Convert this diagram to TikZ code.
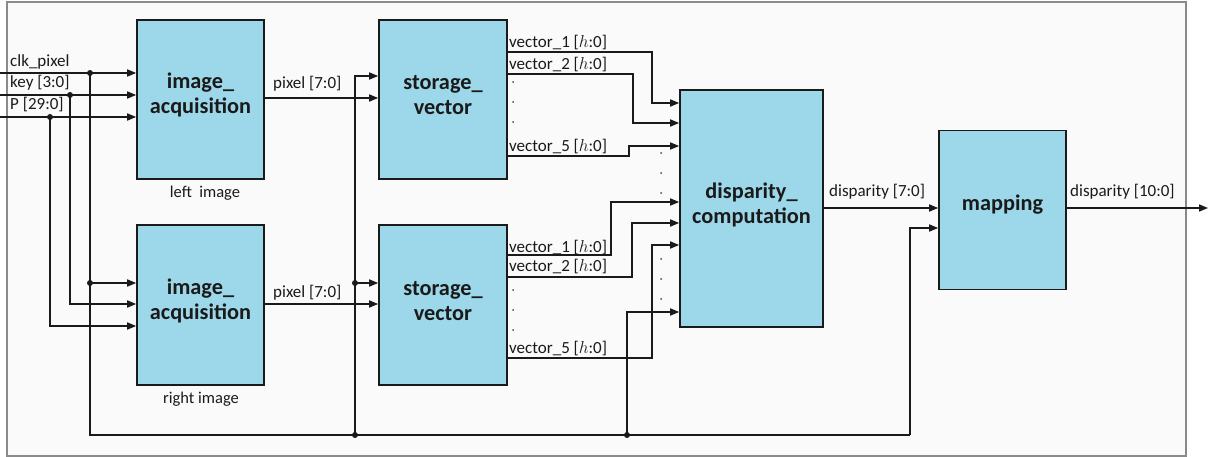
\documentclass[tikz,border=0pt]{standalone}
\usepackage{fontspec}
\setmainfont{Carlito}
\usetikzlibrary{arrows.meta,calc}
\definecolor{boxfill}{HTML}{9CD8E9}
\definecolor{panel}{HTML}{FAFAFA}
\definecolor{framegray}{HTML}{8A8A8A}
\definecolor{ink}{HTML}{1A1A1A}
\tikzset{
  block/.style={draw=ink, fill=boxfill, line width=1.6pt, inner sep=0pt},
  blocktext/.style={font=\fontsize{22.3}{25}\selectfont\bfseries, align=center, inner sep=0pt, text=ink},
  sig/.style={font=\fontsize{17}{18}\selectfont, inner sep=0pt, anchor=base west, text=ink},
  caption/.style={font=\fontsize{16.5}{18}\selectfont, inner sep=0pt, text=ink},
  wire/.style={draw=ink, line width=1.6pt},
  arr/.style={wire, -{Triangle[length=9pt,width=7pt]}},
  junction/.style={circle, fill=ink, draw=none, inner sep=0pt, minimum size=6pt},
  ellip/.style={fill=ink!80}
}
\begin{document}
\begin{tikzpicture}[x=1pt,y=-1pt]
  \useasboundingbox (0,0) rectangle (1213,457);
  \fill[white] (0,0) rectangle (1213,457);
  \draw[framegray, line width=1.5pt, fill=panel] (7,2) rectangle (1186,456);

  % processing blocks
  \node[block, minimum width=127pt, minimum height=159pt] (ia1) at (200.5,99.5) {};
  \node[block, minimum width=127pt, minimum height=160pt] (ia2) at (200.5,305) {};
  \node[block, minimum width=128pt, minimum height=159pt] (sv1) at (443,99.5) {};
  \node[block, minimum width=128pt, minimum height=160pt] (sv2) at (443,305) {};
  \node[block, minimum width=143pt, minimum height=237pt] (dc) at (751.5,208.5) {};
  \node[block, minimum width=127pt, minimum height=159pt] (mp) at (1002.5,210) {};

  \node[blocktext] (ia1t) at (200.5,95) {image\_\\acquisition};
  \node[blocktext] (ia2t) at (200.5,301) {image\_\\acquisition};
  \node[blocktext] (sv1t) at (443,95) {storage\_\\vector};
  \node[blocktext] (sv2t) at (443,301) {storage\_\\vector};
  \node[blocktext] (dct) at (751.5,205) {disparity\_\\computation};
  \node[blocktext] (mpt) at (1002.5,205) {mapping};

  \node[caption] (capl) at (205,193) {left\ \ image};
  \node[caption] (capr) at (201,399) {right image};

  % external inputs
  \coordinate (clkin) at (0,73);
  \coordinate (keyin) at (0,95);
  \coordinate (pin)   at (0,117);
  \node[junction] (jclk) at (90,73) {};
  \node[junction] (jkey) at (70,95) {};
  \node[junction] (jp)   at (50,117) {};
  \node[junction] (jclk2) at (90,283) {};
  \coordinate (bus0) at (90,435);
  \node[junction] (jbus1) at (355,435) {};
  \node[junction] (jbus2) at (627,435) {};
  \node[junction] (jsv2) at (355,283) {};
  \coordinate (busend) at (910,435);

  \draw[arr] (clkin) -- (clkin -| ia1.west);
  \draw[arr] (keyin) -- (keyin -| ia1.west);
  \draw[arr] (pin) -- (pin -| ia1.west);
  \node[sig] (lclk) at (10,67) {clk\_pixel};
  \node[sig] (lkey) at (10,88) {key [3:0]};
  \node[sig] (lp)   at (10,110) {P [29:0]};

  \draw[wire] (jclk.center) -- (jclk2.center);
  \draw[arr] (jclk2.center) -- (jclk2 -| ia2.west);
  \draw[arr] (jkey.center) |- ($(ia2.west)+(0,-1)$);
  \draw[arr] (jp.center) |- ($(ia2.west)+(0,21)$);

  % clock bus along the bottom
  \draw[wire] (jclk2.center) -- (bus0) -- (busend);
  \draw[arr] (busend) |- ($(mp.west)+(0,18)$);
  \draw[wire] (jbus1.center) -- (jsv2.center);
  \draw[arr] (jsv2.center) -- (jsv2 -| sv2.west);
  \draw[arr] (jsv2.center) |- ($(sv1.west)+(0,-23.5)$);
  \draw[arr] (jbus2.center) |- ($(dc.west)+(0,103.5)$);

  % pixel streams
  \draw[arr] ($(ia1.east)+(0,-1.5)$) -- ($(sv1.west)+(0,-1.5)$);
  \draw[arr] ($(ia2.east)+(0,-1)$) -- ($(sv2.west)+(0,-1)$);
  \node[sig] (lpix1) at (273,89) {pixel [7:0]};
  \node[sig] (lpix2) at (273,297) {pixel [7:0]};

  % vectors of the left image
  \coordinate (a1) at ($(sv1.east)+(0,-47.5)$);
  \coordinate (a2) at ($(sv1.east)+(0,-25.5)$);
  \coordinate (a5) at ($(sv1.east)+(0,56.5)$);
  \draw[arr] (a1) -- (652,52) |- ($(dc.west)+(0,-105.5)$);
  \draw[arr] (a2) -- (633,74) |- ($(dc.west)+(0,-85.5)$);
  \draw[arr] (a5) -- (629,156) |- ($(dc.west)+(0,-62.5)$);
  \node[sig] (lv11) at (509,48) {vector\_1 [$h$:0]};
  \node[sig] (lv12) at (509,70) {vector\_2 [$h$:0]};
  \node[sig] (lv15) at (509,152) {vector\_5 [$h$:0]};

  % vectors of the right image
  \coordinate (b1) at ($(sv2.east)+(0,-50)$);
  \coordinate (b2) at ($(sv2.east)+(0,-28)$);
  \coordinate (b5) at ($(sv2.east)+(0,53)$);
  \draw[arr] (b1) -- (611,255) |- ($(dc.west)+(0,-6.5)$);
  \draw[arr] (b2) -- (632,277) |- ($(dc.west)+(0,14.5)$);
  \draw[arr] (b5) -- (652,358) |- ($(dc.west)+(0,36.5)$);
  \node[sig] (lv21) at (509,252) {vector\_1 [$h$:0]};
  \node[sig] (lv22) at (509,272) {vector\_2 [$h$:0]};
  \node[sig] (lv25) at (509,353) {vector\_5 [$h$:0]};

  % elided vectors
  \foreach \yy in {82,102,122,290,310,330} \fill[ellip] (513,\yy) circle (1pt);
  \foreach \yy in {153,173,193,259,279,299} \fill[ellip] (661,\yy) circle (1pt);

  % disparity outputs
  \coordinate (outend) at (1208,208);
  \draw[arr] (dc.east |- 0,208) -- (mp.west |- 0,208);
  \draw[arr] (mp.east |- 0,208) -- (outend);
  \node[sig] (ld1) at (829,197) {disparity [7:0]};
  \node[sig] (ld2) at (1070,197) {disparity [10:0]};
\end{tikzpicture}
\end{document}
